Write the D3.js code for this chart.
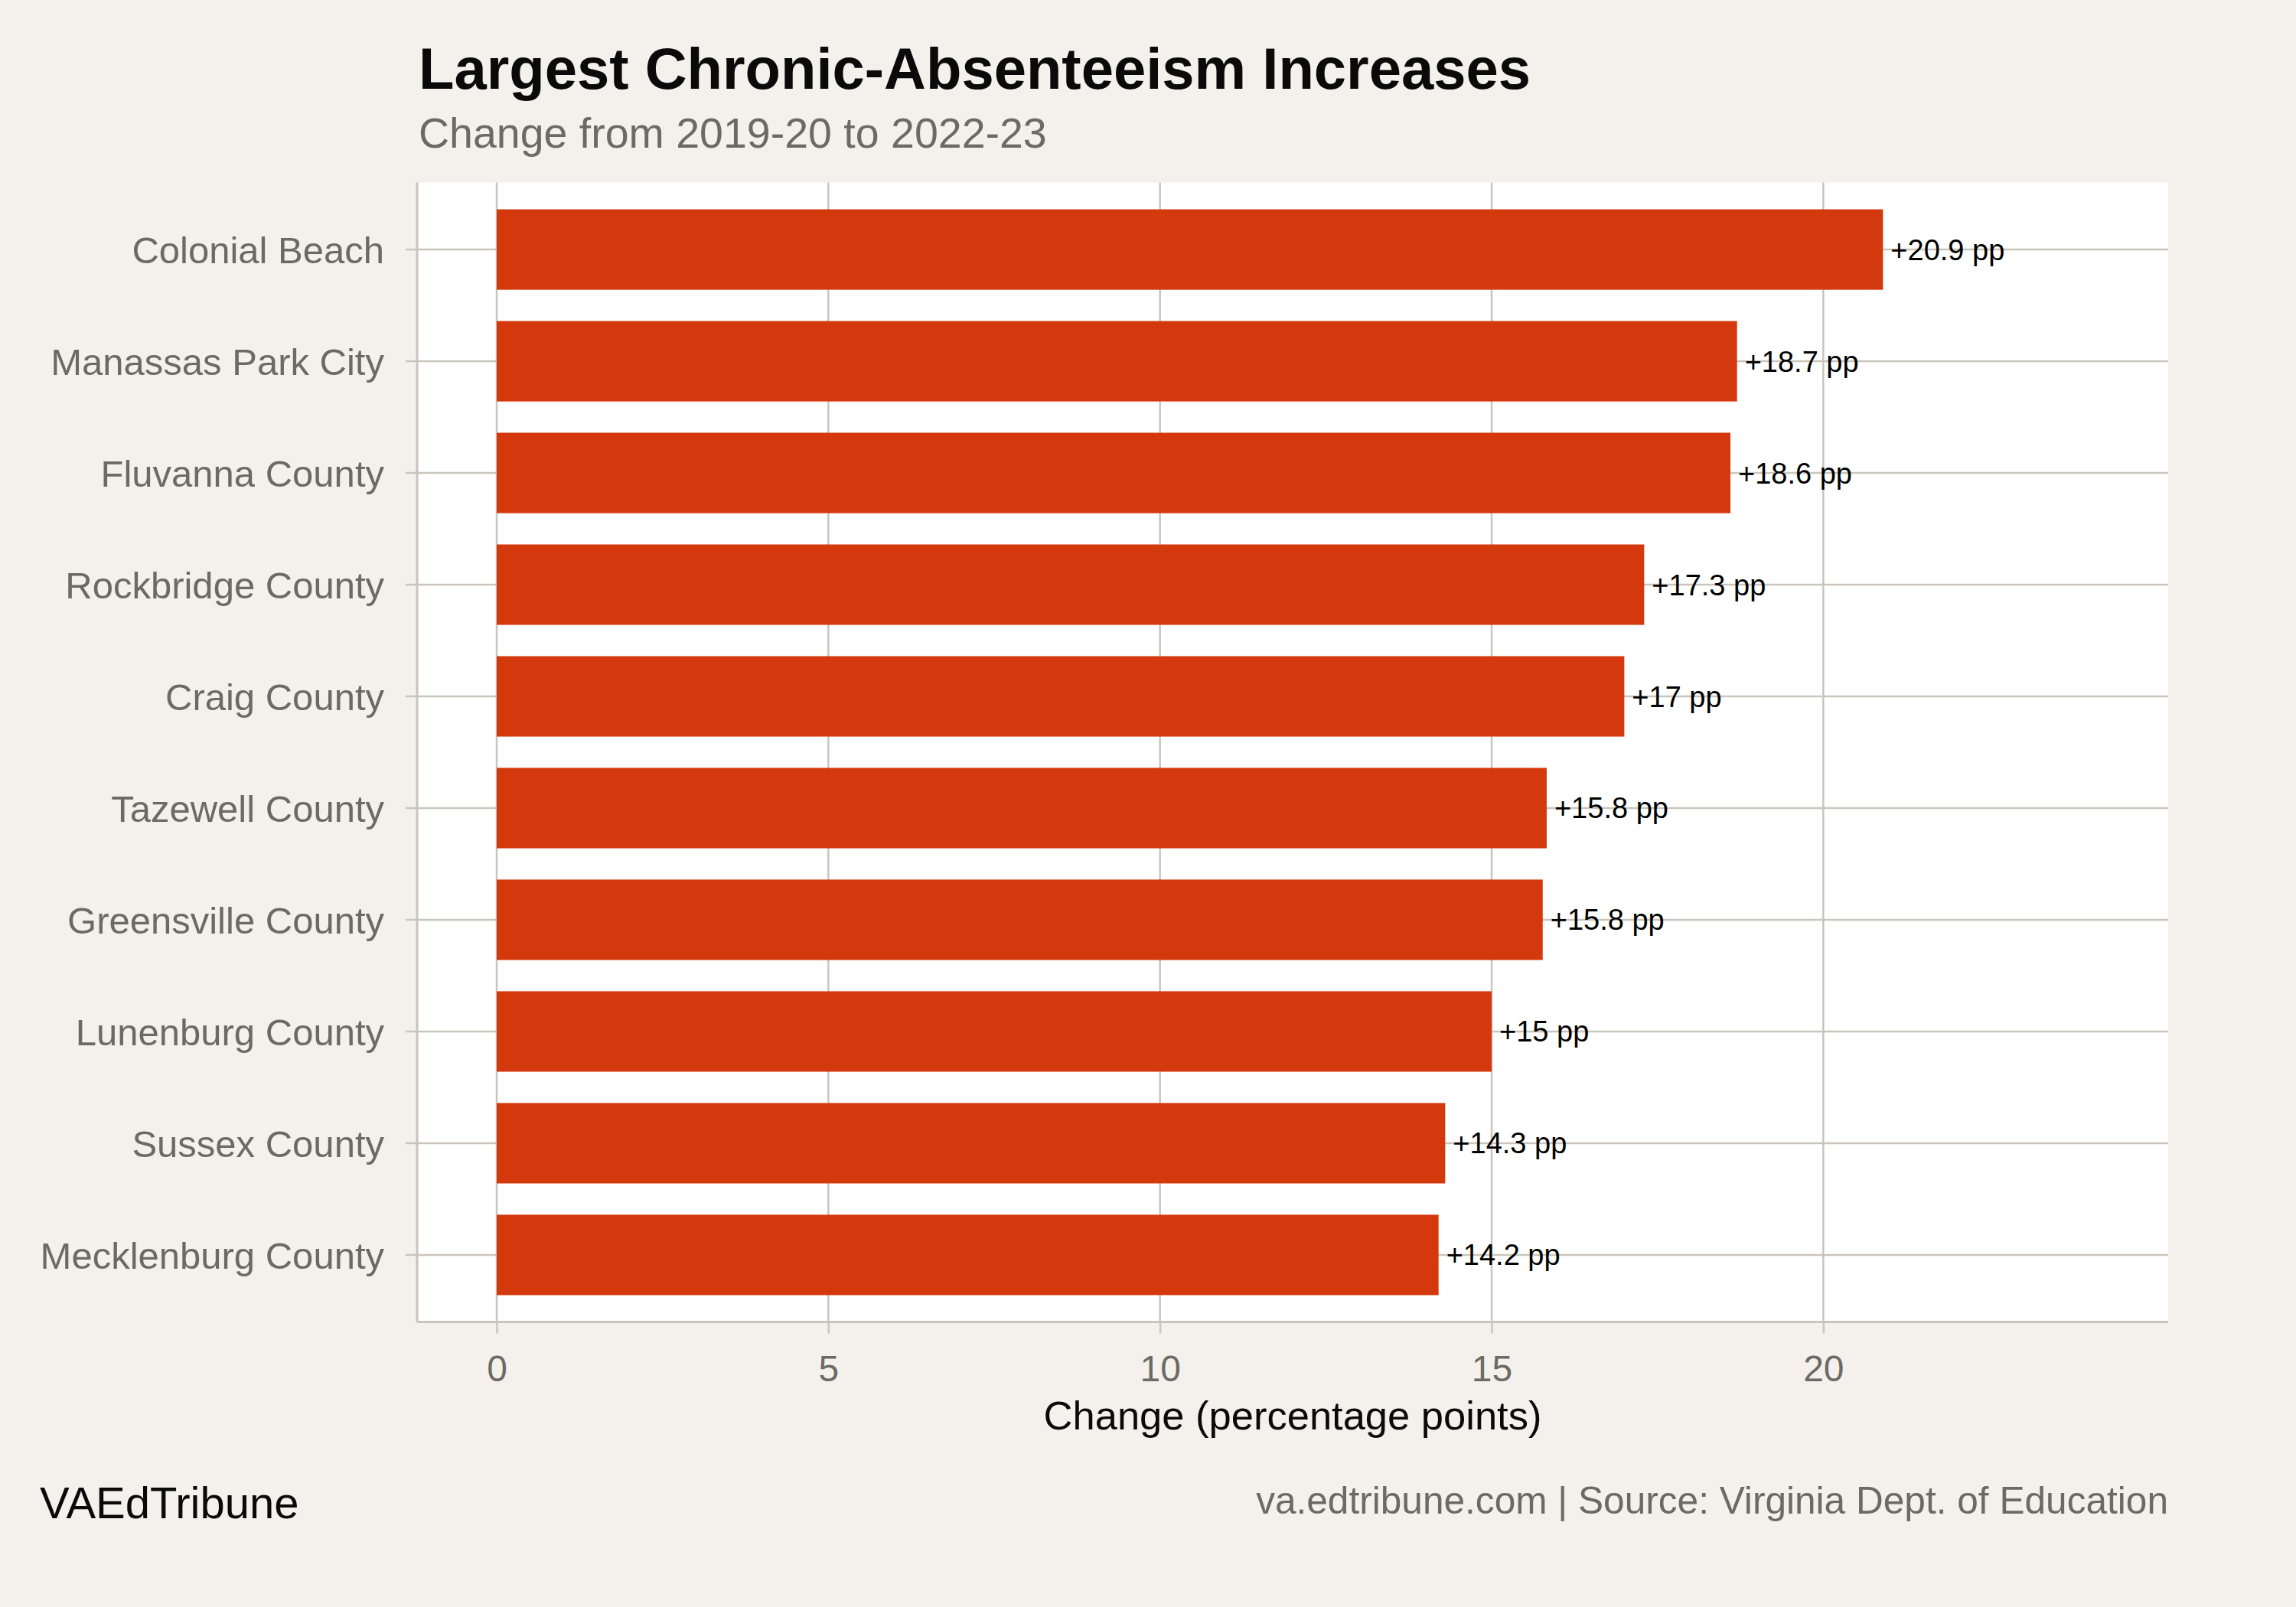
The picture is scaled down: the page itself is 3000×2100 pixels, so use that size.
<!DOCTYPE html>
<html>
<head>
<meta charset="utf-8">
<script src="https://cdn.jsdelivr.net/npm/d3@7"></script>
<style>
  body { margin: 0; background: #f4f1ec; }
  svg text { font-family: "Liberation Sans", Arial, Helvetica, sans-serif; }
</style>
</head>
<body>
<svg id="chart"></svg>
<script>
// districts, largest increase first
const districts = ["Colonial Beach", "Manassas Park City", "Fluvanna County", "Rockbridge County",
  "Craig County", "Tazewell County", "Greensville County", "Lunenburg County", "Sussex County",
  "Mecklenburg County"];
// change in chronic absenteeism, percentage points
const changes = [20.9, 18.7, 18.6, 17.3, 17.0, 15.83, 15.77, 15.0, 14.3, 14.2];
const xTicks = [0, 5, 10, 15, 20];

const width = 3000, height = 2100;
const panel = {left: 545, right: 2833, top: 238.5, bottom: 1727.5};
const grid = "#cac5bc", grey = "#6b6a65", barColor = "#d4380d";

const data = districts.map((d, i) => ({name: d, value: changes[i]}));

const svg = d3.select("#chart").attr("width", width).attr("height", height);

svg.append("rect").attr("width", width).attr("height", height).attr("fill", "#f4f1ec");
svg.append("rect")
  .attr("x", panel.left).attr("y", panel.top)
  .attr("width", panel.right - panel.left).attr("height", panel.bottom - panel.top)
  .attr("fill", "#ffffff");

let x = d3.scaleLinear().domain([-1.2, 25.2]).range([panel.left, panel.right]);
let y = d3.scaleBand().domain(districts).range([panel.top, panel.bottom])
  .paddingInner(0.28).paddingOuter(0.24);

// grid lines
svg.append("g").selectAll("line").data(xTicks).enter().append("line")
  .attr("x1", d => x(d)).attr("x2", d => x(d))
  .attr("y1", panel.top).attr("y2", panel.bottom)
  .attr("stroke", grid).attr("stroke-width", 2.5);
svg.append("g").selectAll("line").data(districts).enter().append("line")
  .attr("x1", panel.left).attr("x2", panel.right)
  .attr("y1", d => y(d) + y.bandwidth() / 2).attr("y2", d => y(d) + y.bandwidth() / 2)
  .attr("stroke", grid).attr("stroke-width", 2.5);

// bars
svg.append("g").selectAll("rect").data(data).enter().append("rect")
  .attr("x", x(0)).attr("y", d => y(d.name))
  .attr("width", d => x(d.value) - x(0)).attr("height", y.bandwidth())
  .attr("fill", barColor);

// value labels
const fmt = v => "+" + (Math.round(v * 10) / 10) + " pp";
svg.append("g").selectAll("text").data(data).enter().append("text")
  .attr("x", d => x(d.value) + 10)
  .attr("y", d => y(d.name) + y.bandwidth() / 2 + 13.5)
  .attr("font-size", 38).attr("fill", "#000")
  .text(d => fmt(d.value));

// axes
let xAxis = svg.append("g")
  .attr("transform", "translate(0," + panel.bottom + ")")
  .call(d3.axisBottom(x).tickValues(xTicks).tickSize(15).tickPadding(28).tickSizeOuter(0));
xAxis.select(".domain").attr("stroke", grid).attr("stroke-width", 3)
  .attr("d", "M" + panel.left + ",0H" + panel.right);
xAxis.selectAll(".tick line").attr("stroke", grid).attr("stroke-width", 2.5);
xAxis.selectAll(".tick text").attr("font-size", 48).attr("fill", grey)
  .attr("font-family", "Liberation Sans, Arial, sans-serif");

let yAxis = svg.append("g")
  .attr("transform", "translate(" + panel.left + ",0)")
  .call(d3.axisLeft(y).tickSize(15).tickPadding(28).tickSizeOuter(0));
yAxis.select(".domain").attr("stroke", grid).attr("stroke-width", 3)
  .attr("d", "M0," + panel.top + "V" + panel.bottom);
yAxis.selectAll(".tick line").attr("stroke", grid).attr("stroke-width", 2.5);
yAxis.selectAll(".tick text").attr("font-size", 49).attr("fill", grey)
  .attr("dy", "0.36em")
  .attr("font-family", "Liberation Sans, Arial, sans-serif");

// titles
svg.append("text").attr("x", 547).attr("y", 116)
  .attr("font-size", 76).attr("font-weight", "bold").attr("fill", "#0a0a0a")
  .text("Largest Chronic-Absenteeism Increases");
svg.append("text").attr("x", 547).attr("y", 193)
  .attr("font-size", 55.5).attr("fill", grey)
  .text("Change from 2019-20 to 2022-23");

svg.append("text").attr("x", (panel.left + panel.right) / 2).attr("y", 1868)
  .attr("text-anchor", "middle").attr("font-size", 52.5).attr("fill", "#0a0a0a")
  .text("Change (percentage points)");

// footer
svg.append("text").attr("x", 52).attr("y", 1984)
  .attr("font-size", 58).attr("fill", "#0a0a0a")
  .text("VAEdTribune");
svg.append("text").attr("x", panel.right).attr("y", 1978)
  .attr("text-anchor", "end").attr("font-size", 49.6).attr("fill", grey)
  .text("va.edtribune.com | Source: Virginia Dept. of Education");
</script>
</body>
</html>
